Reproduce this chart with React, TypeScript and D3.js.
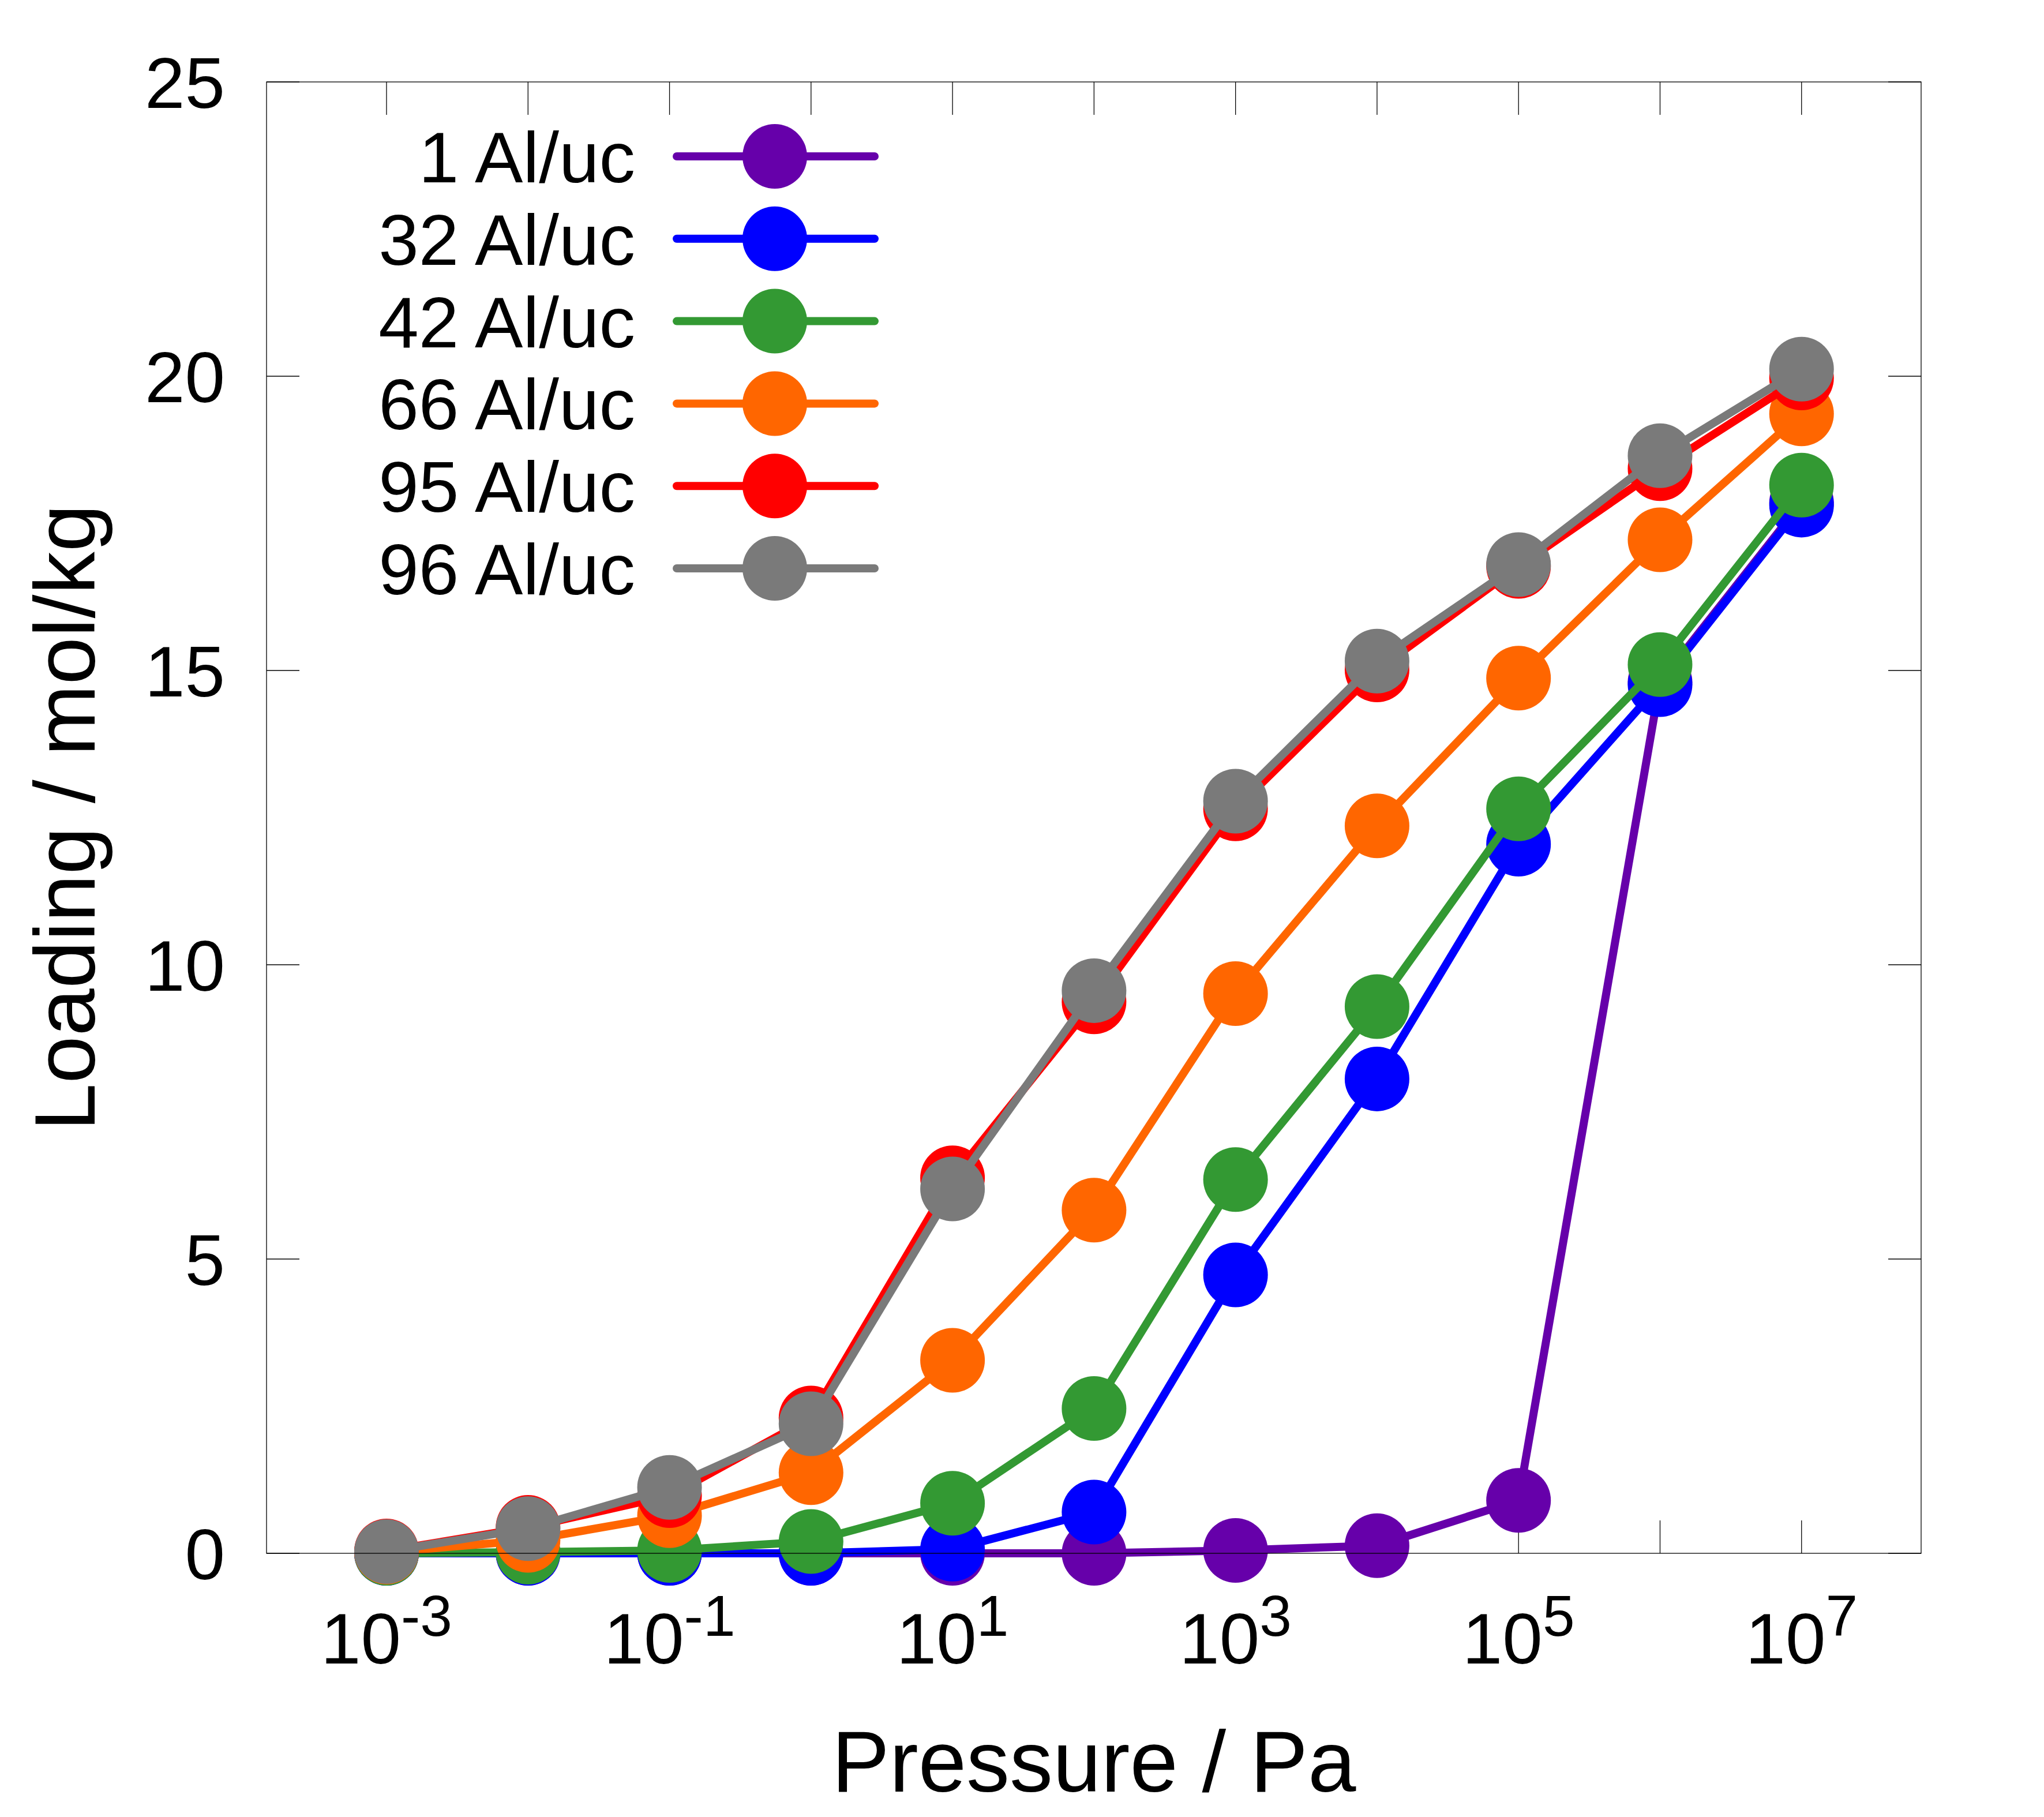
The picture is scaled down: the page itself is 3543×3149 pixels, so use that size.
import React from 'react';
import * as d3 from 'd3';

const pressures = [1e-3, 1e-2, 1e-1, 1e0, 1e1, 1e2, 1e3, 1e4, 1e5, 1e6, 1e7];

const al1 = [0, 0, 0, 0, 0, 0, 0.05, 0.13, 0.9, 14.8, 17.85];
const al32 = [0, 0, 0, 0, 0.07, 0.7, 4.73, 8.06, 12.05, 14.76, 17.81];
const al42 = [0, 0.02, 0.05, 0.2, 0.85, 2.46, 6.35, 9.29, 12.65, 15.1, 18.15];
const al66 = [0.02, 0.22, 0.64, 1.37, 3.28, 5.83, 9.51, 12.36, 14.87, 17.22, 19.36];
const al95 = [0.04, 0.44, 0.98, 2.3, 6.38, 9.37, 12.65, 15.01, 16.77, 18.43, 19.97];
const al96 = [0.03, 0.42, 1.12, 2.2, 6.19, 9.56, 12.78, 15.16, 16.8, 18.65, 20.12];

const seriesNames = ['1 Al/uc', '32 Al/uc', '42 Al/uc', '66 Al/uc', '95 Al/uc', '96 Al/uc'];
const seriesValues = [al1, al32, al42, al66, al95, al96];
const seriesColors = ['#6600aa', '#0000ff', '#339933', '#ff6600', '#ff0000', '#7a7a7a'];

const yTicks = [0, 5, 10, 15, 20, 25];
const xTickExps = [-3, -2, -1, 0, 1, 2, 3, 4, 5, 6, 7];
const xLabelExps = [-3, -1, 1, 3, 5, 7];

const W = 3543;
const H = 3149;
const FONT = '"Liberation Sans", Arial, sans-serif';

export default function App() {
  const left = 462, right = 3330, top = 142, bottom = 2692;
  const x = d3.scaleLog().domain([10 ** -3.848, 10 ** 7.845]).range([left, right]);
  const y = d3.scaleLinear().domain([0, 25]).range([bottom, top]);
  const tickLen = 57;

  const line = d3.line<number>()
    .x((_, i) => x(pressures[i]))
    .y((d) => y(d));

  return (
    <div style={{ position: 'absolute', left: 0, top: 0 }}>
      <svg width={W} height={H} viewBox={`0 0 ${W} ${H}`} style={{ display: 'block', background: '#fff' }}>
        {/* ticks, mirrored on all sides */}
        <g stroke="#000" strokeWidth={1.3}>
          {yTicks.map((t) => (
            <g key={`y${t}`}>
              <line x1={left} x2={left + tickLen} y1={y(t)} y2={y(t)} />
              <line x1={right} x2={right - tickLen} y1={y(t)} y2={y(t)} />
            </g>
          ))}
          {xTickExps.map((e) => (
            <g key={`x${e}`}>
              <line x1={x(10 ** e)} x2={x(10 ** e)} y1={bottom} y2={bottom - tickLen} />
              <line x1={x(10 ** e)} x2={x(10 ** e)} y1={top} y2={top + tickLen} />
            </g>
          ))}
        </g>

        {/* tick labels */}
        <g fontFamily={FONT} fontSize={125} fill="#000">
          {yTicks.map((t) => (
            <text key={`yl${t}`} x={390} y={y(t)} dy="0.36em" textAnchor="end">{t}</text>
          ))}
          {xLabelExps.map((e) => (
            <text key={`xl${e}`} x={x(10 ** e)} y={2883} textAnchor="middle">
              10<tspan fontSize={100} dy={-48}>{e}</tspan>
            </text>
          ))}
        </g>

        {/* axis titles */}
        <text x={(left + right) / 2} y={3105} textAnchor="middle" fontFamily={FONT} fontSize={150}>
          Pressure / Pa
        </text>
        <text
          transform={`translate(164,${(top + bottom) / 2}) rotate(-90)`}
          textAnchor="middle"
          fontFamily={FONT}
          fontSize={148}
        >
          Loading / mol/kg
        </text>

        {/* series */}
        {seriesValues.map((vals, s) => (
          <g key={seriesNames[s]}>
            <path d={line(vals) ?? ''} fill="none" stroke={seriesColors[s]} strokeWidth={14} strokeLinejoin="round" />
            {vals.map((v, i) => (
              <circle key={i} cx={x(pressures[i])} cy={y(v)} r={56} fill={seriesColors[s]} />
            ))}
          </g>
        ))}

        {/* legend */}
        <g fontFamily={FONT} fontSize={125}>
          {seriesNames.map((name, s) => {
            const ly = 271 + s * 142.8;
            return (
              <g key={`lg${s}`}>
                <text x={1101} y={ly} dy="0.36em" textAnchor="end">{name}</text>
                <line x1={1173} x2={1516} y1={ly} y2={ly} stroke={seriesColors[s]} strokeWidth={14} strokeLinecap="round" />
                <circle cx={1343} cy={ly} r={56} fill={seriesColors[s]} />
              </g>
            );
          })}
        </g>

        {/* border */}
        <rect x={left} y={top} width={right - left} height={bottom - top} fill="none" stroke="#000" strokeWidth={1.3} />
      </svg>
    </div>
  );
}
